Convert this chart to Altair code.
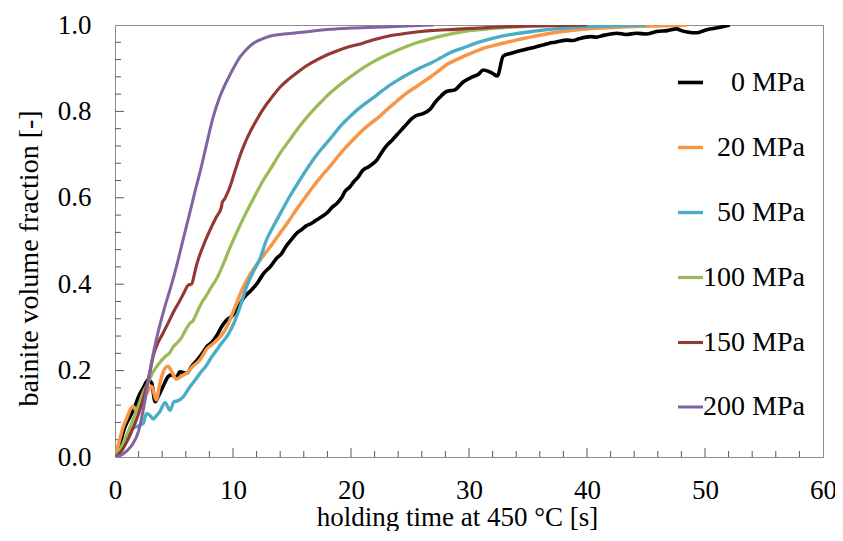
import altair as alt
import pandas as pd

# ---- series labels / colours ----
labels = ["0 MPa", "20 MPa", "50 MPa", "100 MPa", "150 MPa", "200 MPa"]
colors = ["#000000", "#F79646", "#4BACC6", "#9BBB59", "#953735", "#8064A2"]
widths = [3.6, 3, 3, 3, 3, 3]

# ---- data: holding time [s] and bainite fraction [-] ----
t_0 = [0, 0.4, 0.85, 1.27, 1.7, 2.0, 2.4, 2.8, 3.1, 3.4, 3.7, 4.1, 4.5, 4.8, 5.2, 5.5, 6.07, 6.5, 6.92, 7.4,
       7.77, 8.2, 8.6, 9.0, 9.46, 9.9, 10.3, 10.9, 11.5, 12.0, 12.57, 13.2, 13.7, 14.1, 14.5, 15.0, 15.4, 15.8,
       16.2, 16.6, 17.1, 17.5, 18.0, 18.4, 18.8, 19.2, 19.5, 19.9, 20.2, 20.6, 21.0, 21.5, 22.2, 22.6, 23.0,
       23.5, 24.1, 24.7, 25.1, 25.5, 26.1, 26.7, 27.1, 27.5, 28.1, 28.8, 29.5, 30.3, 30.8, 31.2, 31.7, 32.0,
       32.4, 32.9, 33.5, 34.0, 34.6, 35.0, 35.5, 36.3, 36.8, 37.3, 38.3, 38.8, 39.3, 40.3, 40.8, 41.4, 42.0,
       42.5, 43.3, 44.2, 45.0, 45.9, 46.8, 47.6, 48.0, 48.5, 49.3, 50.0, 50.7, 51.5, 52.1]
f_0 = [0, 0.03, 0.07, 0.093, 0.118, 0.14, 0.16, 0.178, 0.172, 0.128, 0.142, 0.165, 0.186, 0.19, 0.184, 0.197,
       0.194, 0.21, 0.223, 0.24, 0.255, 0.265, 0.28, 0.3, 0.317, 0.326, 0.34, 0.368, 0.385, 0.4, 0.424, 0.442,
       0.46, 0.47, 0.488, 0.505, 0.518, 0.526, 0.535, 0.54, 0.549, 0.556, 0.566, 0.578, 0.587, 0.6, 0.615,
       0.625, 0.636, 0.648, 0.664, 0.672, 0.688, 0.705, 0.72, 0.734, 0.752, 0.77, 0.782, 0.79, 0.795, 0.805,
       0.82, 0.832, 0.846, 0.85, 0.868, 0.88, 0.886, 0.896, 0.892, 0.888, 0.882, 0.928, 0.934, 0.938, 0.942,
       0.945, 0.948, 0.954, 0.958, 0.96, 0.965, 0.964, 0.968, 0.973, 0.972, 0.976, 0.979, 0.981, 0.978, 0.981,
       0.979, 0.985, 0.987, 0.991, 0.987, 0.984, 0.982, 0.988, 0.992, 0.996, 1.0]

t_20 = [0, 0.3, 0.7, 1.0, 1.3, 1.55, 1.9, 2.3, 2.7, 3.1, 3.5, 3.8, 4.1, 4.5, 4.85, 5.2, 5.6, 6.07, 6.6, 7.2,
        7.77, 8.3, 8.9, 9.46, 10.0, 10.5, 10.9, 11.5, 12.0, 12.57, 13.3, 13.98, 14.7, 15.4, 16.1, 16.8, 17.5,
        18.2, 18.9, 19.6, 20.3, 21.0, 21.7, 22.5, 23.2, 23.9, 24.6, 25.3, 26.0, 26.7, 27.4, 28.1, 28.8, 29.5,
        30.3, 31.2, 32.6, 34.0, 35.4, 36.9, 38.3, 39.7, 41.1, 42.5, 44.5, 46.5, 48.5]
f_20 = [0, 0.03, 0.07, 0.09, 0.11, 0.117, 0.103, 0.13, 0.148, 0.164, 0.132, 0.17, 0.198, 0.21, 0.195, 0.18,
        0.187, 0.194, 0.21, 0.225, 0.25, 0.262, 0.278, 0.3, 0.335, 0.37, 0.395, 0.425, 0.445, 0.466, 0.492,
        0.518, 0.545, 0.574, 0.6, 0.626, 0.65, 0.672, 0.696, 0.718, 0.738, 0.757, 0.773, 0.79, 0.808, 0.824,
        0.84, 0.853, 0.866, 0.879, 0.893, 0.908, 0.918, 0.927, 0.936, 0.946, 0.956, 0.965, 0.973, 0.981,
        0.986, 0.99, 0.993, 0.995, 0.997, 0.998, 1.0]

t_50 = [0, 0.5, 1.0, 1.3, 1.8, 2.4, 2.65, 2.9, 3.25, 3.5, 3.8, 4.24, 4.66, 5.0, 5.3, 5.8, 6.36, 6.8, 7.2, 7.7,
        8.2, 8.6, 9.0, 9.5, 10.0, 10.5, 11.16, 11.7, 12.3, 12.8, 13.4, 14.1, 14.8, 15.5, 16.2, 16.9, 17.65,
        18.4, 19.07, 19.8, 20.5, 21.2, 21.9, 22.6, 23.3, 24.0, 24.7, 25.7, 26.7, 27.6, 28.4, 29.5, 30.3, 31.2,
        32.6, 34.0, 35.4, 36.9, 38.3, 39.7, 42.0, 45.0]
f_50 = [0, 0.02, 0.048, 0.062, 0.07, 0.078, 0.1, 0.098, 0.088, 0.095, 0.105, 0.126, 0.108, 0.128, 0.13, 0.14,
        0.163, 0.178, 0.194, 0.21, 0.232, 0.247, 0.262, 0.28, 0.305, 0.34, 0.395, 0.428, 0.46, 0.5, 0.533,
        0.568, 0.603, 0.634, 0.664, 0.692, 0.718, 0.742, 0.765, 0.785, 0.803, 0.818, 0.832, 0.847, 0.861,
        0.873, 0.884, 0.899, 0.911, 0.924, 0.936, 0.947, 0.955, 0.963, 0.973, 0.98, 0.985, 0.99, 0.993,
        0.996, 0.998, 1.0]

t_100 = [0, 0.5, 1.0, 1.5, 2.0, 2.4, 2.8, 3.25, 3.7, 4.24, 4.6, 4.94, 5.3, 5.65, 6.0, 6.36, 6.6, 6.92, 7.3,
         7.77, 8.2, 8.6, 9.2, 9.75, 10.4, 11.16, 11.9, 12.57, 13.3, 13.98, 14.7, 15.4, 16.1, 16.8, 17.5, 18.2,
         18.9, 19.6, 20.3, 21.0, 22.1, 23.3, 24.7, 25.7, 26.7, 28.4, 29.8, 31.2, 33.0, 35.0, 38.0]
f_100 = [0, 0.02, 0.05, 0.085, 0.12, 0.15, 0.172, 0.198, 0.215, 0.232, 0.24, 0.255, 0.265, 0.277, 0.295, 0.31,
         0.315, 0.333, 0.355, 0.375, 0.395, 0.412, 0.448, 0.485, 0.525, 0.568, 0.607, 0.641, 0.672, 0.703,
         0.73, 0.757, 0.781, 0.803, 0.823, 0.842, 0.858, 0.873, 0.887, 0.9, 0.918, 0.934, 0.95, 0.96, 0.968,
         0.979, 0.986, 0.99, 0.994, 0.997, 1.0]

t_150 = [0, 0.5, 1.0, 1.5, 2.0, 2.5, 2.9, 3.25, 3.6, 4.0, 4.5, 5.0, 5.5, 5.93, 6.2, 6.5, 6.7, 6.92, 7.5, 8.05,
         8.6, 9.0, 9.1, 9.3, 9.75, 10.2, 10.6, 11.0, 11.44, 12.0, 12.57, 13.3, 13.98, 14.7, 15.4, 16.2, 17.1,
         17.9, 18.8, 19.9, 21.0, 22.1, 23.3, 24.7, 26.7, 28.8, 30.9, 33.0, 36.0, 40.0]
f_150 = [0, 0.012, 0.035, 0.065, 0.1, 0.145, 0.19, 0.235, 0.262, 0.283, 0.31, 0.338, 0.362, 0.385, 0.398, 0.4,
         0.42, 0.445, 0.49, 0.525, 0.556, 0.577, 0.59, 0.598, 0.626, 0.665, 0.698, 0.726, 0.752, 0.78, 0.806,
         0.833, 0.856, 0.874, 0.889, 0.905, 0.919, 0.93, 0.94, 0.95, 0.958, 0.967, 0.975, 0.981, 0.987, 0.99,
         0.993, 0.996, 0.998, 1.0]

t_200 = [0, 0.5, 1.0, 1.5, 2.0, 2.4, 2.8, 3.25, 3.8, 4.3, 4.8, 5.2, 5.65, 6.2, 6.78, 7.3, 7.77, 8.3, 8.9, 9.4,
         9.75, 10.2, 10.6, 11.16, 11.7, 12.5, 13.1, 14.3, 15.4, 16.5, 18.2, 20.0, 23.3, 27.0]
f_200 = [0, 0.004, 0.014, 0.03, 0.06, 0.11, 0.172, 0.24, 0.305, 0.355, 0.4, 0.44, 0.49, 0.55, 0.615, 0.67,
         0.725, 0.785, 0.835, 0.866, 0.885, 0.908, 0.926, 0.944, 0.957, 0.968, 0.974, 0.979, 0.982, 0.985,
         0.99, 0.993, 0.996, 1.0]

# ---- axis tick positions ----
x_labels = [0, 10, 20, 30, 40, 50, 60]
x_major = [10, 20, 30, 40, 50]
x_minor = [2, 4, 6, 8, 12, 14, 16, 18, 22, 24, 26, 28, 32, 34, 36, 38, 42, 44, 46, 48, 52, 54, 56, 58]
y_labels = [0.0, 0.2, 0.4, 0.6, 0.8, 1.0]
y_major = [0.2, 0.4, 0.6, 0.8]
y_minor = [0.04, 0.08, 0.12, 0.16, 0.24, 0.28, 0.32, 0.36, 0.44, 0.48, 0.52, 0.56,
           0.64, 0.68, 0.72, 0.76, 0.84, 0.88, 0.92, 0.96]

series_t = [t_0, t_20, t_50, t_100, t_150, t_200]
series_f = [f_0, f_20, f_50, f_100, f_150, f_200]

rows = []
for lab, ts, fs in zip(labels, series_t, series_f):
    for t, f in zip(ts, fs):
        rows.append({"series": lab, "t": t, "f": f})
df = pd.DataFrame(rows)

W, H = 708, 432
FONT = "Liberation Serif"
TICK = "#595959"
FRAME = "#8c8c8c"

xscale = alt.Scale(domain=[0, 60], nice=False, zero=False)
yscale = alt.Scale(domain=[0, 1], nice=False, zero=False)

x_axis = alt.Axis(values=x_labels, format="d", title="holding time at 450 °C [s]",
                  labelFont=FONT, titleFont=FONT, labelFontSize=27, titleFontSize=27,
                  labelPadding=20, labelFlush=False, titleBaseline="alphabetic", titleY=68,
                  titleX=342)
y_axis = alt.Axis(values=y_labels, format=".1f", title="bainite volume fraction [-]",
                  labelFont=FONT, titleFont=FONT, labelFontSize=27, titleFontSize=28,
                  labelPadding=24, labelFlush=False, titleX=-86, titleY=233,
                  titleBaseline="middle")

lines = alt.Chart(df).mark_line(interpolate="monotone", clip=True).encode(
    x=alt.X("t:Q", scale=xscale, axis=x_axis),
    y=alt.Y("f:Q", scale=yscale, axis=y_axis),
    color=alt.Color("series:N", scale=alt.Scale(domain=labels, range=colors),
                    legend=alt.Legend(title=None, orient="none", legendX=561, legendY=43,
                                      symbolType="stroke", symbolSize=625, symbolStrokeWidth=3,
                                      labelFont=FONT, labelFontSize=28, labelColor="black",
                                      labelAlign="right", labelOffset=100,
                                      rowPadding=36, padding=0, labelLimit=400)),
    strokeWidth=alt.StrokeWidth("series:N", scale=alt.Scale(domain=labels, range=widths), legend=None),
)

ym = alt.Chart(pd.DataFrame({"v": y_major})).mark_rule(color=TICK, strokeWidth=1).encode(
    y=alt.Y("v:Q", scale=yscale, axis=y_axis), x=alt.value(0), x2=alt.value(9))
yn = alt.Chart(pd.DataFrame({"v": y_minor})).mark_rule(color=TICK, strokeWidth=1).encode(
    y=alt.Y("v:Q", scale=yscale, axis=y_axis), x=alt.value(0), x2=alt.value(6))
xm = alt.Chart(pd.DataFrame({"v": x_major})).mark_rule(color=TICK, strokeWidth=1).encode(
    x=alt.X("v:Q", scale=xscale, axis=x_axis), y=alt.value(H), y2=alt.value(H - 9))
xn = alt.Chart(pd.DataFrame({"v": x_minor})).mark_rule(color=TICK, strokeWidth=1).encode(
    x=alt.X("v:Q", scale=xscale, axis=x_axis), y=alt.value(H), y2=alt.value(H - 6))

chart = alt.layer(ym, yn, xm, xn, lines).properties(
    width=W, height=H,
    autosize=alt.AutoSizeParams(type="none"),
    padding={"left": 107, "top": 17, "right": 12, "bottom": 74},
).configure(
    font=FONT
).configure_view(
    stroke=FRAME, strokeWidth=1
).configure_axis(
    grid=False, ticks=False, tickSize=0, domainColor=FRAME, domainWidth=1,
    labelFont=FONT, titleFont=FONT, labelColor="black",
    titleColor="black", titleFontWeight="normal",
).configure_legend(
    labelFont=FONT
)

chart.save("out.html", embed_options={"renderer": "svg", "actions": False})
